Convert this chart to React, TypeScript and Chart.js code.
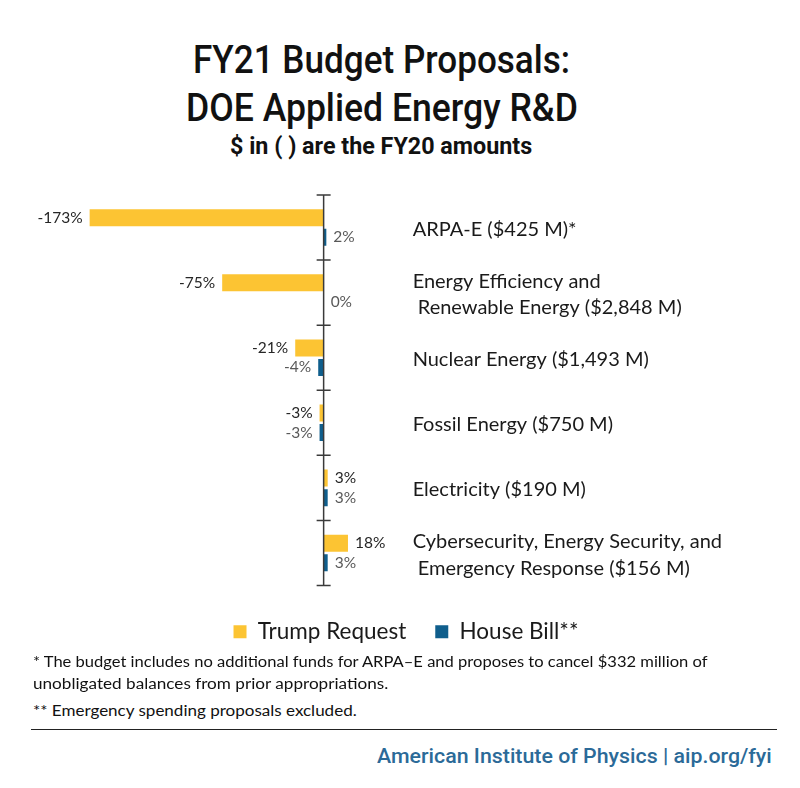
import React, { useEffect, useLayoutEffect, useRef, useState } from 'react';
import { Chart, registerables } from 'chart.js';

Chart.register(...registerables);

// ---------- data ----------
const categories: string[][] = [
  ['ARPA-E ($425 M)*'],
  ['Energy Efficiency and', ' Renewable Energy ($2,848 M)'],
  ['Nuclear Energy ($1,493 M)'],
  ['Fossil Energy ($750 M)'],
  ['Electricity ($190 M)'],
  ['Cybersecurity, Energy Security, and', ' Emergency Response ($156 M)'],
];
const seriesNames = ['Trump Request', 'House Bill**'];
const trumpRequest = [-173, -75, -21, -3, 3, 18];
const houseBill = [2, 0, -4, -3, 3, 3];

const titleLines = ['FY21 Budget Proposals:', 'DOE Applied Energy R&D'];
const subtitle = '$ in ( ) are the FY20 amounts';
const footnotes = [
  '* The budget includes no additional funds for ARPA\u2013E and proposes to cancel $332 million of',
  'unobligated balances from prior appropriations.',
  '** Emergency spending proposals excluded.',
];
const footer = 'American Institute of Physics | aip.org/fyi';

// ---------- styles ----------
const YELLOW = '#FCC433';
const BLUE = '#0F5E8C';
const BODY_FONT = 'Lato, "Open Sans", sans-serif';
const COND_FONT = 'Roboto, "Liberation Sans", sans-serif';

function FitText(props: {
  text: string; left: number; width: number; top: number;
  font: string; color: string;
}) {
  const ref = useRef<HTMLSpanElement>(null);
  const [s, setS] = useState(1);
  useLayoutEffect(() => {
    if (ref.current) {
      const w = ref.current.offsetWidth;
      if (w) setS(props.width / w);
    }
  }, [props.text, props.width, props.font]);
  return (
    <div style={{ position: 'absolute', left: props.left, top: props.top, whiteSpace: 'pre', lineHeight: 1, font: props.font }}>
      <span ref={ref} style={{ display: 'inline-block', transform: `scaleX(${s})`, transformOrigin: '0 0', color: props.color }}>
        {props.text}
      </span>
    </div>
  );
}

const overlayPlugin = {
  id: 'overlay',
  afterDatasetsDraw(chart: any) {
    const { ctx, chartArea, scales } = chart;
    const x = scales.x;
    const y = scales.y;
    const x0 = x.getPixelForValue(0);
    const n = categories.length;
    const step = (chartArea.bottom - chartArea.top) / n;
    ctx.save();
    // zero axis with category ticks
    ctx.strokeStyle = '#3a3a3a';
    ctx.lineWidth = 1.5;
    ctx.beginPath();
    ctx.moveTo(x0, chartArea.top);
    ctx.lineTo(x0, chartArea.bottom);
    for (let i = 0; i <= n; i++) {
      const yy = chartArea.top + i * step;
      ctx.moveTo(x0 - 7, yy);
      ctx.lineTo(x0 + 7, yy);
    }
    ctx.stroke();

    // value labels
    ctx.font = `15.5px ${BODY_FONT}`;
    ctx.textBaseline = 'middle';
    chart.data.datasets.forEach((ds: any, di: number) => {
      const meta = chart.getDatasetMeta(di);
      meta.data.forEach((bar: any, i: number) => {
        const v = ds.data[i];
        const neg = v < 0;
        ctx.fillStyle = di === 0 ? '#262626' : '#595959';
        ctx.textAlign = neg ? 'right' : 'left';
        const bx = neg ? Math.min(bar.x, bar.base) - 7 : Math.max(bar.x, bar.base) + 7;
        ctx.fillText(`${v}%`, bx, bar.y);
      });
    });

    // category labels
    ctx.font = `20px ${BODY_FONT}`;
    ctx.fillStyle = '#1a1a1a';
    ctx.textAlign = 'left';
    categories.forEach((lines, i) => {
      const cy = y.getPixelForValue(i);
      lines.forEach((ln, j) => {
        ctx.fillText(ln, x0 + 89, cy + (j - (lines.length - 1) / 2) * 26.7 + 2);
      });
    });
    ctx.restore();
  },
};

function BarChart() {
  const canvasRef = useRef<HTMLCanvasElement>(null);
  useEffect(() => {
    if (!canvasRef.current) return;
    const chart = new Chart(canvasRef.current, {
      type: 'bar',
      data: {
        labels: categories.map((c) => c.join(' ')),
        datasets: [
          { label: seriesNames[0], data: trumpRequest, backgroundColor: YELLOW, categoryPercentage: 0.6, barPercentage: 0.87 },
          { label: seriesNames[1], data: houseBill, backgroundColor: BLUE, categoryPercentage: 0.6, barPercentage: 0.87 },
        ],
      },
      options: {
        indexAxis: 'y',
        animation: false,
        responsive: true,
        maintainAspectRatio: false,
        layout: { padding: { left: 12, right: 0, top: 15, bottom: 0 } },
        scales: {
          x: { display: false, min: -230.4, max: 352.2 },
          y: { display: false },
        },
        plugins: {
          legend: {
            position: 'bottom',
            title: { display: true, text: '', font: { size: 5 }, padding: 0 },
            labels: {
              font: { family: BODY_FONT, size: 22.5 },
              color: '#1a1a1a',
              boxWidth: 13,
              boxHeight: 13,
              padding: 29,
            },
          },
          tooltip: { enabled: false },
        },
      },
      plugins: [overlayPlugin],
    } as any);
    return () => chart.destroy();
  }, []);
  return (
    <div style={{ position: 'absolute', left: 0, top: 180, width: 800, height: 473 }}>
      <canvas ref={canvasRef} />
    </div>
  );
}

export default function App() {
  return (
    <div style={{ position: 'relative', width: 800, height: 788, background: '#fff', overflow: 'hidden' }}>
      <style>{'body{margin:0;}'}</style>
      <FitText text={titleLines[0]} left={193} width={377} top={37} font={`500 39px ${COND_FONT}`} color="#111" />
      <FitText text={titleLines[1]} left={186} width={392} top={85} font={`500 39px ${COND_FONT}`} color="#111" />
      <FitText text={subtitle} left={230} width={302} top={133} font={`bold 23px ${COND_FONT}`} color="#111" />
      <BarChart />
      <FitText text={footnotes[0]} left={33} width={674} top={652} font={`15.5px ${BODY_FONT}`} color="#111" />
      <FitText text={footnotes[1]} left={33} width={355} top={674} font={`15.5px ${BODY_FONT}`} color="#111" />
      <FitText text={footnotes[2]} left={33} width={324} top={701} font={`15.5px ${BODY_FONT}`} color="#111" />
      <div style={{ position: 'absolute', left: 31, top: 729, width: 746, height: 0, borderTop: '1.5px solid #222' }} />
      <FitText text={footer} left={377} width={395} top={744} font={`500 20px ${COND_FONT}`} color="#2B6A98" />
    </div>
  );
}
